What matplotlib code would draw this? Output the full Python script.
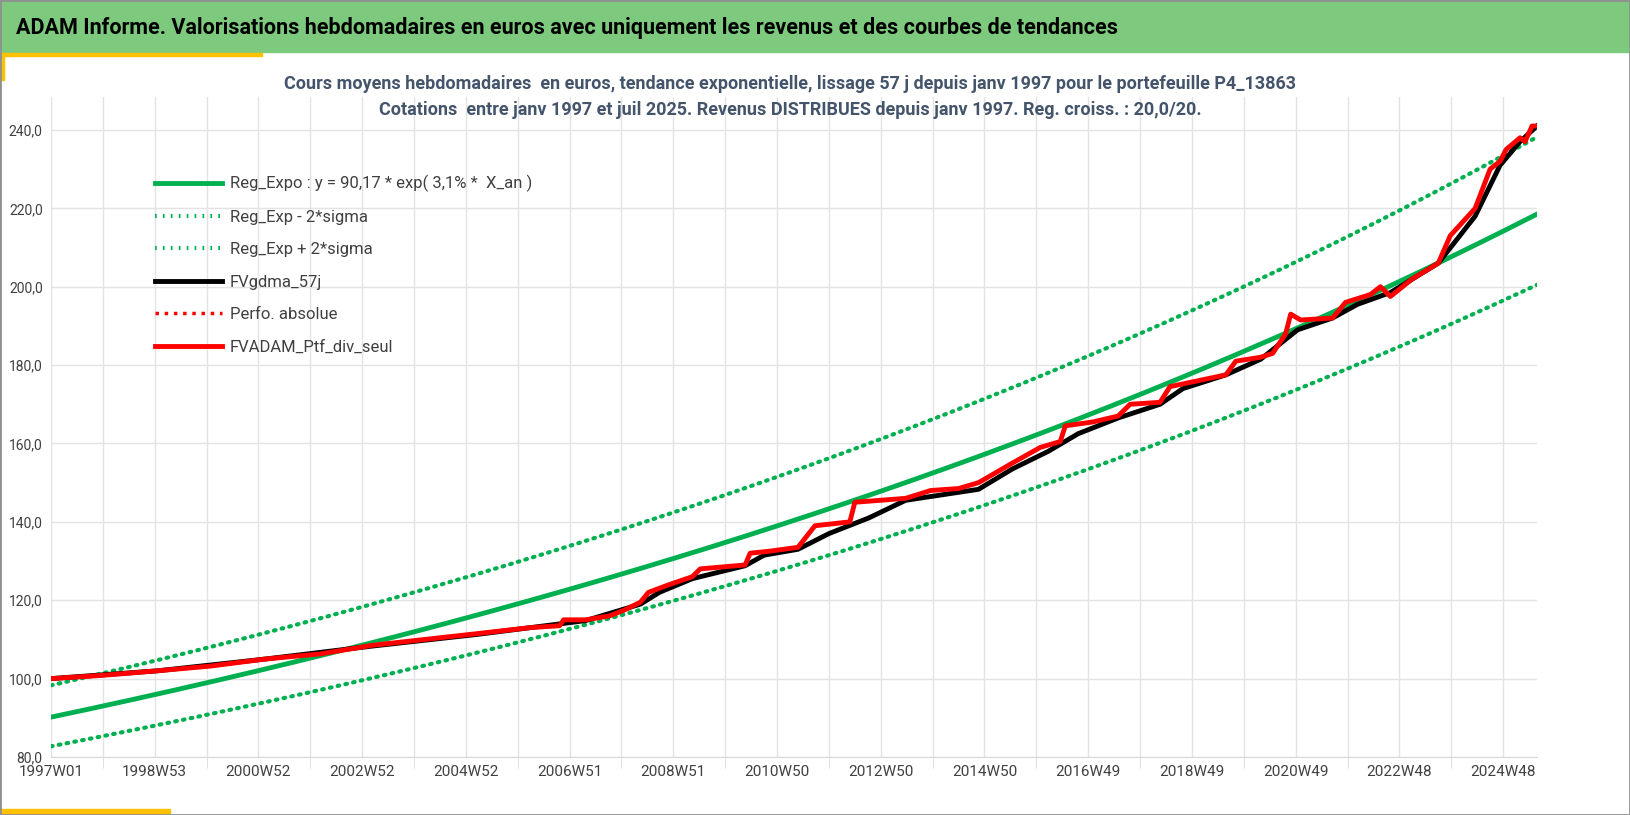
import numpy as np
import matplotlib
matplotlib.use("Agg")
import matplotlib.pyplot as plt
from matplotlib.lines import Line2D
from matplotlib.patches import Rectangle

plt.rcParams['font.family'] = ['Liberation Sans Narrow', 'Roboto', 'DejaVu Sans']

title = "ADAM Informe. Valorisations hebdomadaires en euros avec uniquement les revenus et des courbes de tendances"
subtitle = ("Cours moyens hebdomadaires  en euros, tendance exponentielle, lissage 57 j depuis janv 1997 pour le portefeuille P4_13863\n"
            "Cotations  entre janv 1997 et juil 2025. Revenus DISTRIBUES depuis janv 1997. Reg. croiss. : 20,0/20.")
tick_labels = ["1997W01", "1998W53", "2000W52", "2002W52", "2004W52", "2006W51", "2008W51",
               "2010W50", "2012W50", "2014W50", "2016W49", "2018W49", "2020W49", "2022W48", "2024W48"]
n_weeks = 1490
reg_a = 90.17
reg_b = 0.031
sigma_factor = 1.09

# Portfolio (red): week index, value
ptf_weeks = [0, 50, 107, 160, 215, 270, 322, 375, 428, 480, 510, 514, 536, 560, 575, 591, 599, 620,
             643, 651, 696, 701, 720, 749, 766, 801, 806, 857, 882, 910, 930, 964, 992, 1012, 1017,
             1045, 1070, 1082, 1112, 1122, 1150, 1178, 1188, 1213, 1225, 1238, 1243, 1253, 1285, 1298,
             1323, 1333, 1343, 1365, 1391, 1403, 1428, 1443, 1453, 1459, 1473, 1478, 1485, 1490]
ptf_vals = [100.0, 100.8, 102.0, 103.2, 105.0, 106.3, 108.5, 110.0, 111.5, 113.0, 113.5, 115.0, 115.0,
            116.0, 117.5, 119.5, 122.0, 124.0, 126.0, 128.0, 129.0, 132.0, 132.5, 133.5, 139.0, 140.0,
            145.0, 146.0, 148.0, 148.5, 150.0, 155.0, 159.0, 160.5, 164.5, 165.5, 167.0, 170.0, 170.5,
            174.5, 176.0, 177.5, 181.0, 182.0, 183.0, 188.0, 193.0, 191.5, 192.0, 196.0, 198.0, 200.0,
            197.5, 202.0, 206.0, 213.0, 220.0, 230.0, 232.0, 235.0, 238.0, 237.0, 241.0, 241.0]
# Smoothed (black) line
gdma_weeks = [0, 107, 215, 322, 428, 536, 591, 610, 643, 696, 715, 749, 780, 820, 857, 930, 964, 1000,
              1030, 1070, 1112, 1135, 1178, 1213, 1250, 1285, 1310, 1343, 1391, 1428, 1453, 1473, 1490]
gdma_vals = [100.0, 102.0, 105.0, 108.3, 111.3, 114.8, 119.0, 122.0, 125.5, 128.8, 131.5, 133.0, 137.0,
             141.0, 145.5, 148.3, 153.5, 158.0, 162.5, 166.5, 170.0, 174.0, 177.5, 181.5, 189.0, 192.0,
             195.5, 198.5, 206.0, 218.0, 231.0, 237.0, 241.0]

weeks = np.arange(n_weeks + 1)
trend = reg_a * np.exp(reg_b * weeks / 52.18)

fig = plt.figure(figsize=(16.3, 8.15), dpi=100)
fig.patch.set_facecolor('white')
# header
fig.add_artist(Rectangle((0, 1 - 52 / 815), 1, 52 / 815, transform=fig.transFigure, color='#7DC97D', zorder=0))
fig.add_artist(Rectangle((0, 1 - 80 / 815), 4 / 1630, 27 / 815, transform=fig.transFigure, color='#FFC000'))
fig.add_artist(Rectangle((0, 1 - 56 / 815), 262 / 1630, 3 / 815, transform=fig.transFigure, color='#FFC000'))
fig.add_artist(Rectangle((0, 0), 170 / 1630, 6 / 815, transform=fig.transFigure, color='#FFC000'))
fig.add_artist(Rectangle((0, 0), 1, 1, transform=fig.transFigure, fill=False, ec='#909090', lw=2))
fig.text(16 / 1630, 1 - 28 / 815, title, fontsize=15.5, fontweight='bold', color='black', va='center')
fig.text(790 / 1630, 1 - 97 / 815, subtitle, fontsize=13, fontweight='bold', color='#44546A',
         ha='center', va='center', linespacing=1.6)

ax = fig.add_axes([51 / 1630, 1 - 757 / 815, (1537 - 51) / 1630, (757 - 97) / 815])
ax.set_xlim(0, n_weeks)
ax.set_ylim(80, 248.4)
for s in ax.spines.values():
    s.set_visible(False)
ax.spines['bottom'].set_visible(True)
ax.spines['bottom'].set_color('#D9D9D9')
ax.set_yticks(np.arange(80, 241, 20))
ax.set_yticklabels([f"{v:.1f}".replace('.', ',') for v in np.arange(80, 241, 20)], fontsize=10, color='#404040')
ax.set_xticks(np.arange(0, n_weeks, 52), minor=True)
ax.set_xticks(np.arange(len(tick_labels)) * 104)
ax.set_xticklabels(tick_labels, fontsize=11, color='#404040')
ax.grid(True, which='both', color='#E3E3E3', lw=1)
ax.tick_params(axis='both', which='both', length=0, pad=6)
ax.tick_params(axis='x', which='minor', length=8, color='#D9D9D9')

ax.plot(weeks, trend, color='#00B050', lw=3.5, zorder=3)
ax.plot(weeks, trend / sigma_factor, color='#00B050', lw=3, ls=(0, (0.4, 1.5)), dash_capstyle='round', zorder=3)
ax.plot(weeks, trend * sigma_factor, color='#00B050', lw=3, ls=(0, (0.4, 1.5)), dash_capstyle='round', zorder=3)
ax.plot(gdma_weeks, gdma_vals, color='black', lw=3.5, zorder=4)
ax.plot(ptf_weeks, ptf_vals, color='red', lw=2, ls=':', zorder=5)
ax.plot(ptf_weeks, ptf_vals, color='red', lw=3.5, zorder=6)

handles = [Line2D([], [], color='#00B050', lw=3.5),
           Line2D([], [], color='#00B050', lw=3, ls=(0, (0.4, 1.5))),
           Line2D([], [], color='#00B050', lw=3, ls=(0, (0.4, 1.5))),
           Line2D([], [], color='black', lw=3.5),
           Line2D([], [], color='red', lw=2.5, ls=':'),
           Line2D([], [], color='red', lw=3.5)]
labels = ["Reg_Expo : y = 90,17 * exp( 3,1% *  X_an )", "Reg_Exp - 2*sigma", "Reg_Exp + 2*sigma",
          "FVgdma_57j", "Perfo. absolue", "FVADAM_Ptf_div_seul"]
ax.legend(handles, labels, loc='upper left', bbox_to_anchor=(140 / 1630, 1 - 160 / 815),
          bbox_transform=fig.transFigure, frameon=False, fontsize=12, labelcolor='#404040',
          handlelength=4, labelspacing=1.05, handletextpad=0.5)

fig.savefig("out.png", dpi=100)
